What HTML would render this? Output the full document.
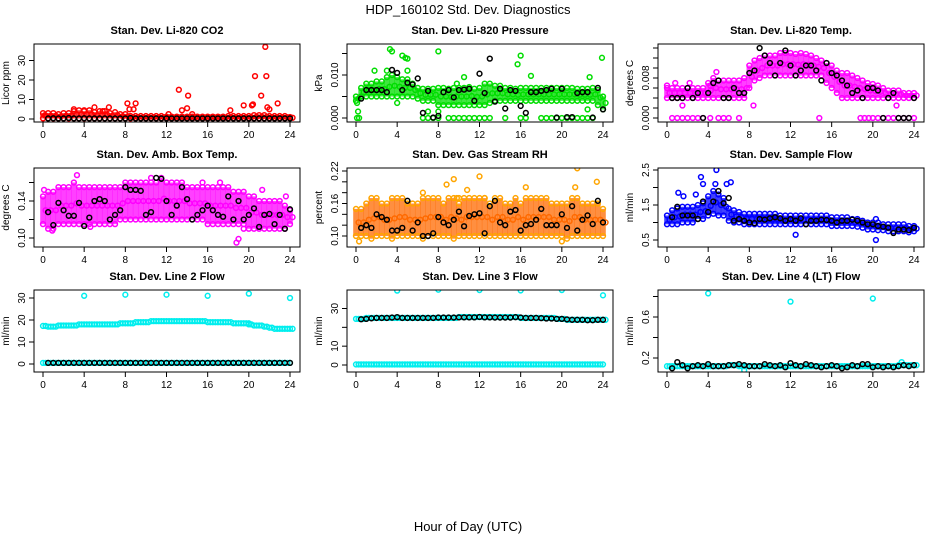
<!DOCTYPE html>
<html><head><meta charset="utf-8"><style>
body{margin:0;background:#fff;}
svg{display:block;font-family:"Liberation Sans",sans-serif;}
</style></head><body>
<svg id="c" width="936" height="540">
<text x="468" y="14" font-size="13" text-anchor="middle">HDP_160102  Std. Dev. Diagnostics</text>
<text x="468" y="531" font-size="13" text-anchor="middle">Hour of Day (UTC)</text>
</svg>
<script>
// ---- data ----
const xTicks=[0,4,8,12,16,20,24];
const co2Hi=[3,3,3,2.5,3,3,4,4.5,4,4.5,3.5,4,4,3,3.5,2.5,2.5,1.5,1.5,1.5,1.5,1.5,1.5,1.5,1.2,1.2,1.2,1.2,1.2,1.2,1.2,1.2,1.2,1.2,1.2,1.2,1.5,1.5,1.5,1.5,1.5,2,2,2,1.5,1.5,1.5,1.5,1];
const co2Lo=[0.3,0.3,0.3,0.3,0.3,0.3,0.3,0.3,0.3,0.3,0.3,0.3,0.3,0.3,0.3,0.3,0.3,0.3,0.3,0.3,0.3,0.3,0.3,0.3,0.3,0.3,0.3,0.3,0.3,0.3,0.3,0.3,0.3,0.3,0.3,0.3,0.3,0.3,0.3,0.3,0.3,0.3,0.3,0.3,0.3,0.3,0.3,0.3,0.3];
const co2Out=[[8.2,8],[8.4,5],[8.8,5],[9,8],[12.2,2.5],[13.2,15],[13.5,4.5],[14,5.5],[14.1,12],[14.5,2.5],[18.2,4.5],[19.5,7],[20.3,7],[20.4,7.5],[20.6,22],[21.2,12],[21.6,37],[21.7,22],[21.8,6],[22,5],[22.8,8],[5,6],[6.4,6],[5.8,4],[3,5],[4,4.5],[0.2,2]];
const co2Black=[0.3,0.4,0.3,0.3,0.5,0.3,0.3,0.4,0.3,0.3,0.3,0.3,0.3,0.3,0.3,0.3,0.5,0.3,0.3,0.3,0.3,0.3,0.3,0.3,0.3,0.3,0.3,0.3,0.3,0.3,0.3,0.3,0.3,0.3,0.3,0.3,0.3,0.3,0.3,0.3,0.3,0.3,0.3,0.3,0.3,0.3,0.3,0.3];

const prHi=[.005,.007,.008,.008,.0085,.0085,.0095,.01,.0095,.009,.009,.008,.007,.0068,.0068,.0068,.007,.007,.0068,.007,.007,.007,.0072,.0068,.007,.008,.008,.0075,.0075,.007,.007,.0068,.007,.007,.007,.007,.007,.007,.007,.007,.007,.007,.007,.0068,.0068,.0068,.007,.0065,.005];
const prLo=[.004,.005,.005,.005,.005,.005,.005,.005,.005,.005,.005,.005,.0045,.004,.004,.004,.003,.003,.003,.003,.003,.003,.003,.003,.003,.003,.0035,.004,.004,.004,.004,.004,.004,.004,.004,.004,.004,.004,.004,.004,.004,.004,.004,.004,.004,.004,.004,.003,.002];
const prZeroHours=[0.1,0.3,6.5,7,7.5,8,9,9.5,10,10.5,11,11.5,12,12.5,13,14.5,16,16.5,18,18.5,19,19.5,20,20.5,21,21.5,22,22.5,23];
const prOut=[[3.3,.016],[3.5,.0155],[4.5,.0145],[4.8,.014],[5,.0138],[8,.0155],[15.7,.0125],[16,.0145],[23.9,.014],[1.8,.011],[3,.011],[5,.011],[0.1,.0035],[0.2,.0015],[4,.0035],[9.8,.008],[10.5,.0095],[17,.0098],[22.7,.0095],[7,.0015],[8,.0015],[22.5,.002]];
const prBlack=[.0045,.0065,.0065,.0065,.0065,.006,.0112,.0105,.0065,.0082,.0078,.0092,.0012,.0063,.0001,.0005,.006,.0065,.0048,.0065,.0066,.0068,.004,.0103,.0058,.0138,.0038,.0068,.0022,.0065,.0063,.0028,.0012,.006,.006,.0063,.0065,.0068,.0001,.0068,.0002,.0002,.0058,.006,.006,.0001,.007,.002];

const tpHi=[.006,.006,.006,.006,.006,.006,.006,.006,.007,.008,.0075,.0075,.0075,.0075,.0075,.008,.0105,.0115,.012,.0125,.0125,.0125,.013,.013,.013,.0128,.013,.0128,.0125,.012,.0115,.011,.0105,.0095,.009,.009,.0085,.008,.0075,.007,.0068,.0065,.006,.0055,.0055,.0055,.005,.005,.005];
const tpLo=[.004,.004,.004,.004,.004,.004,.004,.004,.004,.004,.004,.004,.004,.004,.004,.004,.006,.0075,.008,.0085,.0085,.0085,.0085,.0085,.0085,.0085,.0085,.0085,.0085,.0085,.0085,.007,.006,.005,.004,.004,.004,.004,.004,.004,.004,.004,.004,.004,.004,.004,.004,.004,.004];
const tpZeroHours=[0.5,1,1.5,2,2.5,3,3.5,4.2,5,5.5,6,7,14.8,18.8,19.2,19.6,20,20.5,21,21.5,22,22.5,23,23.5,24];
const tpOut=[[0,.0065],[0.8,.007],[2.2,.007],[4.2,.0065],[4.8,.0092],[8.4,.0025],[22.3,.0025],[1.5,.0025]];
const tpBlack=[.004,.004,.004,.006,.004,.005,0,.005,.007,.0075,.004,.004,.006,.005,.005,.009,.0095,.014,.0125,.011,.0085,.011,.0135,.0105,.0085,.0095,.0105,.0105,.0095,.0075,.011,.009,.0085,.0075,.0065,.005,.0055,.004,.006,.006,.0055,0,.004,.005,0,0,0,.004];

const abHi=[.145,.15,.15,.155,.155,.155,.16,.155,.155,.155,.155,.155,.155,.155,.155,.155,.16,.16,.16,.16,.16,.16,.16,.165,.16,.16,.16,.16,.155,.155,.155,.155,.155,.155,.155,.155,.155,.15,.15,.15,.145,.145,.14,.14,.14,.14,.14,.135,.13];
const abLo=[.115,.11,.11,.115,.115,.115,.115,.115,.115,.115,.115,.115,.115,.115,.115,.12,.12,.12,.12,.12,.12,.12,.12,.12,.12,.12,.12,.12,.12,.12,.12,.12,.115,.115,.115,.115,.115,.115,.115,.115,.11,.11,.11,.11,.11,.11,.11,.11,.115];
const abOut=[[3.3,.168],[0.1,.152],[18.8,.095],[19,.099],[10.5,.165],[15.5,.16],[17.2,.16],[21.3,.152],[23.6,.145],[0.9,.108],[4.6,.112],[19.5,.11]];
const abBlack=[.128,.114,.138,.13,.124,.124,.138,.113,.122,.14,.142,.14,.12,.125,.13,.155,.152,.152,.151,.125,.128,.165,.164,.14,.125,.135,.155,.142,.12,.125,.13,.135,.13,.125,.123,.145,.12,.14,.12,.125,.132,.112,.125,.126,.115,.125,.11,.131];

const rhHi=[.15,.15,.16,.17,.17,.16,.16,.17,.17,.17,.16,.16,.16,.17,.17,.17,.17,.16,.17,.17,.16,.17,.17,.17,.17,.17,.16,.17,.17,.16,.16,.17,.16,.17,.17,.17,.17,.17,.16,.16,.16,.16,.17,.17,.16,.16,.16,.16,.15];
const rhLo=[.1,.1,.1,.095,.1,.1,.1,.095,.1,.1,.1,.1,.1,.095,.1,.1,.1,.1,.1,.095,.1,.1,.1,.1,.1,.1,.1,.1,.1,.1,.1,.1,.1,.1,.1,.1,.1,.1,.1,.1,.1,.095,.1,.1,.1,.1,.1,.1,.1];
const rhOut=[[0.3,.09],[8.8,.195],[9.5,.205],[9.8,.17],[12,.21],[12.5,.17],[16.5,.19],[20,.09],[21.5,.225],[21.3,.19],[23.4,.2],[10.8,.185],[10,.17],[6.5,.18]];
const rhBlack=[.115,.12,.115,.14,.135,.13,.11,.11,.115,.165,.11,.125,.1,.1,.105,.135,.125,.12,.13,.145,.118,.137,.14,.142,.105,.155,.165,.125,.12,.145,.148,.11,.12,.122,.13,.15,.12,.12,.12,.14,.115,.155,.11,.13,.138,.122,.165,.125];

const sfHi=[1.2,1.35,1.4,1.45,1.45,1.45,1.5,1.55,1.75,1.9,1.8,1.7,1.4,1.35,1.3,1.25,1.25,1.25,1.25,1.25,1.25,1.25,1.2,1.2,1.2,1.2,1.2,1.2,1.2,1.2,1.2,1.2,1.15,1.15,1.15,1.15,1.1,1.1,1.05,1,1,1,.95,.95,.95,.95,.95,.9,.9];
const sfLo=[.95,.95,.95,1,1,1,1.1,1.1,1.2,1.25,1.2,1.2,1.05,1,1,.95,.95,.95,.95,.95,.95,.95,.95,.95,.95,.95,.95,.95,.95,.95,.95,.95,.9,.9,.9,.9,.9,.88,.85,.8,.8,.78,.78,.75,.75,.75,.75,.72,.75];
const sfOut=[[1.1,1.85],[1.6,1.75],[3.3,2.3],[3.5,2.1],[4.8,2.5],[4.7,2.1],[5.8,2.1],[6.2,2.15],[12.5,.65],[20.3,.5],[20.3,1.1],[2.8,1.8]];
const sfBlack=[1.15,1.45,1.2,1.2,1.2,1.1,1.6,1.3,1.6,1.9,1.55,1.7,1.05,1.1,1.05,1,.98,1.1,1.08,1.12,1.15,1.12,1.05,1.1,1.05,1.12,.95,1.05,1.05,1.08,1.07,1.05,1,1.05,1.05,1.08,1.05,1,.95,.95,.9,.88,.85,.7,.8,.8,.78,.85];

const l2Mid=[17.3,17,17,17.5,17.5,17.5,17.5,18,18,18,18,18,18,18,18,18.5,18.5,18.5,19,19,19,19.5,19.5,19.5,19.5,19.5,19.5,19.5,19.5,19.5,19.5,19.5,19,19,19,19,19,18.5,18.5,18.5,18,17.5,17.5,17,16.5,16,16,16,16];
const l2Out=[[4,31],[8,31.5],[12,31.5],[16,31],[20,32],[24,30],[20,18.5]];
const l2Black=[0.5,0.5,0.5,0.5,0.5,0.5,0.5,0.5,0.5,0.5,0.5,0.5,0.5,0.5,0.5,0.5,0.5,0.5,0.5,0.5,0.5,0.5,0.5,0.5,0.5,0.5,0.5,0.5,0.5,0.5,0.5,0.5,0.5,0.5,0.5,0.5,0.5,0.5,0.5,0.5,0.5,0.5,0.5,0.5,0.5,0.5,0.5,0.5];
const l3Mid=[24.5,24.5,25,25,25,25,25,25,25,25,25,25,25,25,25,25,25,25,25,25,25.5,25.5,25.5,25.5,25.5,25.5,25.5,25.5,25.5,25.5,25.5,25.5,25,25,25,25,25,25,25,24.5,24.5,24,24,24,24,24,24,24,24];
const l3Out=[[4,39.5],[8,40],[12,39.8],[16,39.6],[20,39.8],[24,37]];
const l3Black=[24.3,24.5,24.8,25,25,25,25.2,25.4,25,25,25,25,25,25,25,25.2,25.2,25.2,25.2,25.3,25.3,25.3,25.3,25.5,25.3,25.3,25.2,25.2,25.2,25.2,25.4,25.2,25,25,25,24.9,24.7,24.7,24.5,24.5,24.2,24,24,24,23.8,23.8,24,24];
const l4Mid=[.12,.12,.12,.12,.12,.12,.12,.12,.12,.12,.12,.12,.13,.13,.12,.12,.12,.12,.12,.12,.12,.12,.12,.12,.12,.12,.12,.12,.12,.12,.12,.12,.12,.12,.12,.12,.12,.12,.12,.12,.12,.12,.12,.12,.12,.13,.13,.13,.13];
const l4Out=[[4,.83],[12,.75],[20,.78],[22.8,.16],[7.5,.08]];
const l4Black=[.1,.16,.13,.1,.12,.13,.12,.14,.12,.12,.12,.13,.13,.14,.13,.12,.12,.12,.14,.13,.12,.13,.11,.15,.13,.12,.14,.13,.12,.11,.12,.13,.12,.1,.11,.13,.12,.14,.14,.11,.12,.11,.12,.11,.12,.13,.12,.13];

// ---- drawing ----
const svg=document.getElementById('c');
const NS='http://www.w3.org/2000/svg';
function mk(tag,attrs,parent){const e=document.createElementNS(NS,tag);for(const k in attrs)e.setAttribute(k,attrs[k]);(parent||svg).appendChild(e);return e;}
const cols=[[34,300],[347,613],[658,924]];
const rows=[[44,122],[168,247],[290,372]];
function bandHours(n){const h=[];for(let i=0;i<n;i++)h.push(i*24/(n-1));return h;}
function blackHours(n){const h=[];for(let i=0;i<n;i++)h.push((i+1)*0.5);return h;}

function panel(p){
 const [l,r]=cols[p.col],[t,b]=rows[p.row];
 const g=mk('g',{});
 
 
 const xs=v=>l+9+v*(r-l-19)/24;
 const ys=v=>p.py0+(v-p.v0)*(p.py1-p.py0)/(p.v1-p.v0);
 const title=mk('text',{x:(l+r)/2,y:t-10,'font-size':11,'font-weight':'bold','text-anchor':'middle'},g);
 title.textContent=p.title;
 
 
 const yl=mk('text',{x:0,y:0,'font-size':10,'text-anchor':'middle',transform:`translate(${l-25},${(t+b)/2}) rotate(-90)`},g);
 yl.textContent=p.ylab;
 
 
 const clip='cl'+p.name;
 const cp=mk('clipPath',{id:clip},g);mk('rect',{x:l,y:t,width:r-l,height:b-t},cp);
 const pg=mk('g',{'clip-path':`url(#${clip})`},g);
 function dot(x,y,col,nm){const c=mk('circle',{cx:xs(x),cy:ys(y),r:2.4,fill:'none',stroke:col,'stroke-width':1.5},pg);
  
  }
 const col=p.color;
 if(p.hi){const h=bandHours(p.hi.length);
  h.forEach((x,i)=>{const y1=ys(p.hi[i]),y2=ys(p.lo[i]);
   const rc=mk('rect',{x:xs(x)-2.8,y:y1,width:5.6,height:Math.max(0,y2-y1),fill:p.fill||col,opacity:0.75},pg);
   
   
   dot(x,p.hi[i],col,'series-point');dot(x,p.lo[i],col,'series-point');
   dot(x+0.25,(p.hi[i]+p.lo[i])/2,p.fill||col,'series-point');});}
 if(p.mid){const h=bandHours(p.mid.length);
  h.forEach((x,i)=>{dot(x,p.mid[i],col,'series-point');dot(x+0.25,p.mid[i],col,'series-point');});}
 if(p.zeroLine!==undefined){for(let i=0;i<=96;i++){dot(i*0.25,p.zeroLine,col,'zero-point');}}
 (p.zeros||[]).forEach(x=>dot(x,0,col,'zero-point'));
 (p.out||[]).forEach(o=>dot(o[0],o[1],col,'outlier-point'));
 const bh=blackHours(p.black.length);
 bh.forEach((x,i)=>dot(x,p.black[i],'#000','hourly-mean-point'));
 const box=mk('rect',{x:l,y:t,width:r-l,height:b-t,fill:'none',stroke:'#000','stroke-width':1},g);
 
 
 xTicks.forEach(v=>{const x=xs(v);mk('line',{x1:x,y1:b,x2:x,y2:b+5,stroke:'#000'},g);
  const tx=mk('text',{x:x,y:b+16,'font-size':10,'text-anchor':'middle'},g);tx.textContent=v;
  
  });
 p.yt.forEach((v,i)=>{const y=ys(v);mk('line',{x1:l-5,y1:y,x2:l,y2:y,stroke:'#000'},g);
  const lab=p.ytl[i];if(lab){const tx=mk('text',{x:0,y:0,'font-size':10,'text-anchor':'middle',transform:`translate(${l-9},${y}) rotate(-90)`},g);tx.textContent=lab;
  
  }});
}
panel({name:'co2-panel',col:0,row:0,title:'Stan. Dev. Li-820 CO2',ylab:'Licor ppm',v0:0,py0:119,v1:30,py1:60.5,yt:[0,10,20,30],ytl:['0','10','20','30'],color:'#ff0000',hi:co2Hi,lo:co2Lo,out:co2Out,black:co2Black});
panel({name:'pressure-panel',col:1,row:0,title:'Stan. Dev. Li-820 Pressure',ylab:'kPa',v0:0,py0:118,v1:0.01,py1:75,yt:[0,.005,.01,.015],ytl:['0.000','','0.010',''],color:'#00dd00',hi:prHi,lo:prLo,zeros:prZeroHours,out:prOut,black:prBlack});
panel({name:'temp-panel',col:2,row:0,title:'Stan. Dev. Li-820 Temp.',ylab:'degrees C',v0:0,py0:118,v1:0.008,py1:78,yt:[0,.002,.004,.006,.008,.01,.012,.014],ytl:['0.000','','','','0.008','','',''],color:'#ff00ff',hi:tpHi,lo:tpLo,zeros:tpZeroHours,out:tpOut,black:tpBlack});
panel({name:'ambbox-panel',col:0,row:1,title:'Stan. Dev. Amb. Box Temp.',ylab:'degrees C',v0:0.10,py0:238,v1:0.14,py1:201,yt:[.1,.12,.14,.16],ytl:['0.10','','0.14',''],color:'#ff00ff',hi:abHi,lo:abLo,out:abOut,black:abBlack});
panel({name:'rh-panel',col:1,row:1,title:'Stan. Dev. Gas Stream RH',ylab:'percent',v0:0.10,py0:236,v1:0.22,py1:171,yt:[.1,.12,.14,.16,.18,.2,.22],ytl:['0.10','','','0.16','','','0.22'],color:'#ffa500',fill:'#ff6a00',hi:rhHi,lo:rhLo,out:rhOut,black:rhBlack});
panel({name:'sampleflow-panel',col:2,row:1,title:'Stan. Dev. Sample Flow',ylab:'ml/min',v0:0.5,py0:240,v1:2.5,py1:170,yt:[.5,1,1.5,2,2.5],ytl:['0.5','','1.5','','2.5'],color:'#0000ff',hi:sfHi,lo:sfLo,out:sfOut,black:sfBlack});
panel({name:'line2-panel',col:0,row:2,title:'Stan. Dev. Line 2 Flow',ylab:'ml/min',v0:0,py0:364,v1:30,py1:298,yt:[0,10,20,30],ytl:['0','10','20','30'],color:'#00eeee',mid:l2Mid,zeroLine:0.5,out:l2Out,black:l2Black});
panel({name:'line3-panel',col:1,row:2,title:'Stan. Dev. Line 3 Flow',ylab:'ml/min',v0:0,py0:365,v1:30,py1:308.5,yt:[0,10,20,30],ytl:['0','10','','30'],color:'#00eeee',mid:l3Mid,zeroLine:0.3,out:l3Out,black:l3Black});
panel({name:'line4-panel',col:2,row:2,title:'Stan. Dev. Line 4 (LT) Flow',ylab:'ml/min',v0:0.2,py0:358,v1:0.6,py1:317,yt:[.2,.4,.6,.8],ytl:['0.2','','0.6',''],color:'#00eeee',mid:l4Mid,out:l4Out,black:l4Black});
</script>
</body></html>
